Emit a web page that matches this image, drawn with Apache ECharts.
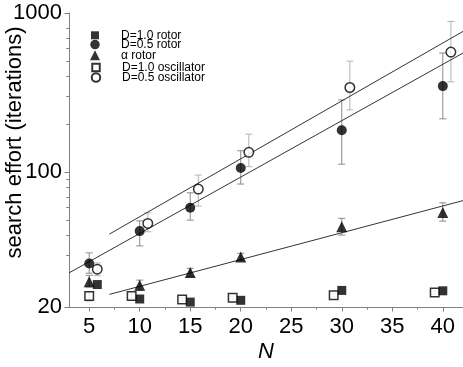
<!DOCTYPE html>
<html>
<head>
<meta charset="utf-8">
<script src="https://cdn.jsdelivr.net/npm/echarts@6/dist/echarts.min.js"></script>
<style>
  html, body { margin: 0; padding: 0; background: #fff; }
  #chart { width: 463px; height: 367px; }
</style>
</head>
<body>
<div id="chart"></div>
<script>
// 数据
const d10RotorN = [5.8, 10, 15, 20, 30, 40];
const d10RotorY = [19.6, 15.9, 15.2, 15.6, 18.0, 17.9];

const d05RotorN = [5, 10, 15, 20, 30, 40];
const d05RotorY = [26.6, 42.5, 59.6, 106, 183, 347];
const d05RotorLo = [23.1, 34.3, 49.8, 84, 112, 216];
const d05RotorHi = [31.0, 49.3, 74.0, 136, 284, 560];

const alphaRotorN = [5, 10, 15, 20, 30, 40];
const alphaRotorY = [20.4, 19.4, 23.3, 29.2, 45.2, 55.7];
const alphaRotorLo = [18.9, 18.0, 22.0, 27.8, 40.1, 49.1];
const alphaRotorHi = [22.4, 20.9, 24.8, 30.8, 51.1, 64.0];

const d10OscN = [5, 9.2, 14.2, 19.2, 29.2, 39.2];
const d10OscY = [16.6, 16.6, 15.8, 16.2, 16.8, 17.5];
const d10OscLo = [15.45, 16.1, 15.4, 15.8, 16.4, 17.1];
const d10OscHi = [17.6, 17.1, 16.2, 16.6, 17.2, 17.9];

const d05OscN = [5.8, 10.8, 15.8, 20.8, 30.8, 40.8];
const d05OscY = [24.5, 47.5, 78.1, 133, 340, 568];
const d05OscLo = [22.3, 42.1, 61.1, 108, 246, 369];
const d05OscHi = [26.8, 55.4, 95.7, 173, 498, 885];

// 拟合直线端点
const fitOscN = [7, 42];
const fitOscY = [40.7, 766];
const fitRotorN = [3, 42];
const fitRotorY = [23.2, 560];
const fitAlphaN = [7, 42];
const fitAlphaY = [17.0, 66.1];

// 坐标轴刻度
const yMin = 14.16;
const yMax = 1000;
const xMin = 3;
const xMax = 42;
const xLabelValues = [5, 10, 15, 20, 25, 30, 35, 40];
const xMinorValues = [7.5, 12.5, 17.5, 22.5, 27.5, 32.5, 37.5];
const yMinorValues = [30, 40, 50, 60, 70, 80, 90, 200, 300, 400, 500, 600, 700, 800];

const names = ['D=1.0 rotor', 'D=0.5 rotor', 'α rotor', 'D=1.0 oscillator', 'D=0.5 oscillator'];
const font = 'Liberation Sans, Arial, sans-serif';
const axisGray = '#808080';

const zip = (xs, ys) => xs.map((x, i) => [x, ys[i]]);

// 误差线
const errorSeries = (xs, lo, hi, color) => ({
  type: 'custom',
  silent: true,
  z: 1,
  clip: false,
  encode: { x: 0, y: [1, 2] },
  data: xs.map((x, i) => [x, lo[i], hi[i]]),
  renderItem: (params, api) => {
    const top = api.coord([api.value(0), api.value(2)]);
    const bot = api.coord([api.value(0), api.value(1)]);
    const w = 3.5;
    const style = { stroke: color, lineWidth: 1 };
    return {
      type: 'group',
      children: [
        { type: 'line', shape: { x1: top[0], y1: top[1], x2: bot[0], y2: bot[1] }, style },
        { type: 'line', shape: { x1: top[0] - w, y1: top[1], x2: top[0] + w, y2: top[1] }, style },
        { type: 'line', shape: { x1: bot[0] - w, y1: bot[1], x2: bot[0] + w, y2: bot[1] }, style }
      ]
    };
  }
});

// 对数轴的次刻度（log 轴不支持 customValues，用 custom 系列画）
const minorTickSeries = (values, len) => ({
  type: 'custom',
  silent: true,
  clip: false,
  z: 3,
  encode: { x: 0, y: 1 },
  data: values.map(v => [xMin, v]),
  renderItem: (params, api) => {
    const p = api.coord([api.value(0), api.value(1)]);
    const y = Math.round(p[1]) + 0.5;
    return {
      type: 'line',
      shape: { x1: p[0] - len, y1: y, x2: p[0], y2: y },
      style: { stroke: axisGray, lineWidth: 1 }
    };
  }
});

const fitSeries = (xs, ys) => ({
  type: 'line',
  silent: true,
  z: 2,
  symbol: 'none',
  lineStyle: { color: '#333', width: 1 },
  data: zip(xs, ys)
});

const scatter = (name, xs, ys, symbol, size, open) => ({
  name,
  type: 'scatter',
  z: 5,
  symbol,
  symbolSize: size,
  itemStyle: open
    ? { color: '#fff', borderColor: '#000', borderWidth: 1.5 }
    : { color: '#000' },
  data: zip(xs, ys)
});

// 图例：每行一个，位置按原图
const legendRows = [33.3, 43.3, 54.3, 65.3, 75.7];
const legendIconSizes = [8, 9.5, 10, 7.5, 8.5];
const legends = names.map((name, i) => {
  const s = legendIconSizes[i];
  return {
    orient: 'vertical',
    padding: 0,
    left: 95 - s / 2,
    top: legendRows[i] - s / 2,
    itemWidth: s,
    itemHeight: s,
    textStyle: { fontFamily: font, fontSize: 12, color: '#000', padding: [0, 0, 0, 21 - s / 2] },
    data: [name]
  };
});

const chart = echarts.init(document.getElementById('chart'));

chart.setOption({
  animation: false,
  grid: { left: 69, right: 0, top: 13, bottom: 60, outerBoundsMode: 'none' },
  legend: legends,
  xAxis: [
    {
      type: 'value',
      min: xMin,
      max: xMax,
      name: 'N',
      nameLocation: 'middle',
      nameGap: 34,
      nameMoveOverlap: false,
      nameTextStyle: { fontFamily: font, fontSize: 22, fontStyle: 'italic', color: '#000' },
      splitLine: { show: false },
      axisLine: { lineStyle: { color: axisGray } },
      axisTick: { length: 4.5, lineStyle: { color: axisGray }, customValues: xLabelValues },
      axisLabel: { customValues: xLabelValues, fontFamily: font, fontSize: 22, color: '#000', margin: 9 }
    },
    {
      type: 'value',
      min: xMin,
      max: xMax,
      position: 'bottom',
      splitLine: { show: false },
      axisLine: { show: false },
      axisTick: { length: 2.7, lineStyle: { color: axisGray }, customValues: xMinorValues },
      axisLabel: { show: false }
    }
  ],
  yAxis: {
    type: 'log',
    logBase: 10,
    min: yMin,
    max: yMax,
    name: 'search effort (iterations)',
    nameLocation: 'middle',
    nameGap: 43,
    nameMoveOverlap: false,
    nameTextStyle: { fontFamily: font, fontSize: 22, color: '#000', padding: [0, 0, 0, 35] },
    splitLine: { show: false },
    axisLine: { show: true, lineStyle: { color: axisGray } },
    axisTick: { length: 4.5, lineStyle: { color: axisGray } },
    axisLabel: {
      fontFamily: font,
      fontSize: 22,
      color: '#000',
      margin: 7,
      showMinLabel: true,
      formatter: v => (v < 20 ? '20' : String(Math.round(v)))
    }
  },
  series: [
    minorTickSeries(yMinorValues, 2.7),
    fitSeries(fitOscN, fitOscY),
    fitSeries(fitRotorN, fitRotorY),
    fitSeries(fitAlphaN, fitAlphaY),
    errorSeries(d05RotorN, d05RotorLo, d05RotorHi, '#8a8a8a'),
    errorSeries(alphaRotorN, alphaRotorLo, alphaRotorHi, '#8a8a8a'),
    errorSeries(d10OscN, d10OscLo, d10OscHi, '#b4b4b4'),
    errorSeries(d05OscN, d05OscLo, d05OscHi, '#b4b4b4'),
    scatter(names[0], d10RotorN, d10RotorY, 'rect', 9, false),
    scatter(names[1], d05RotorN, d05RotorY, 'circle', 10, false),
    scatter(names[2], alphaRotorN, alphaRotorY, 'triangle', 11, false),
    scatter(names[3], d10OscN, d10OscY, 'rect', 8.5, true),
    scatter(names[4], d05OscN, d05OscY, 'circle', 9.5, true)
  ]
});
</script>
</body>
</html>
